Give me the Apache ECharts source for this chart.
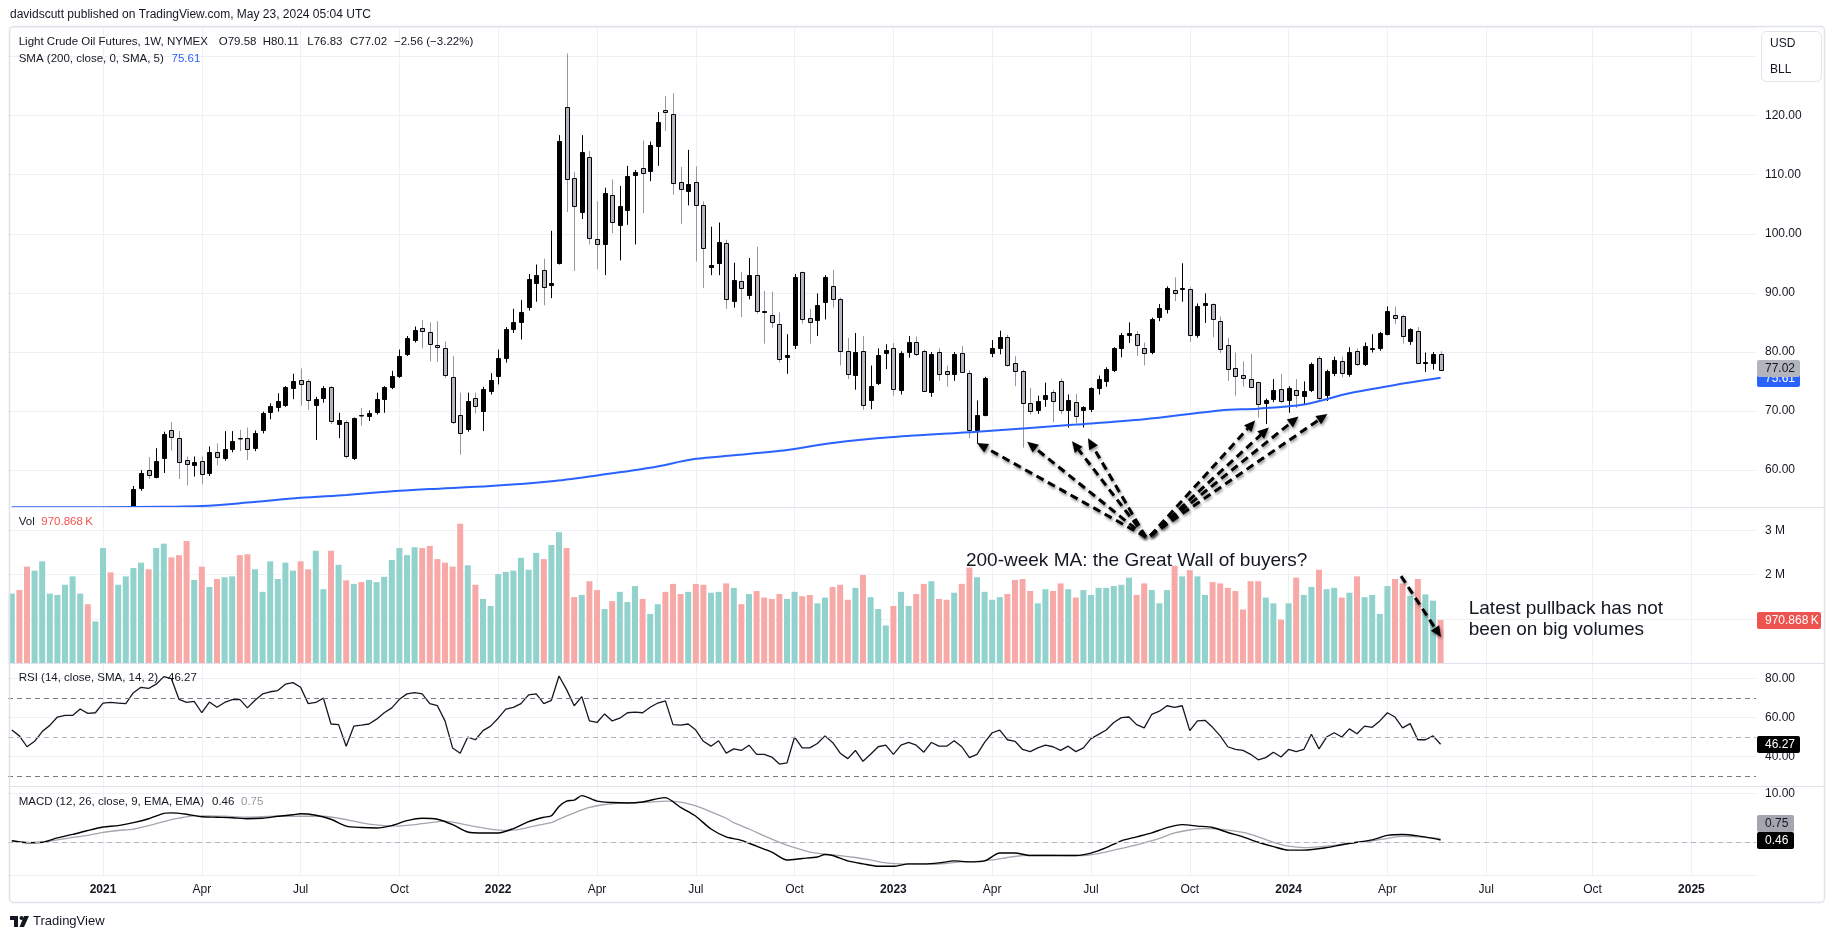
<!DOCTYPE html>
<html>
<head>
<meta charset="utf-8">
<script src="https://cdn.jsdelivr.net/npm/echarts@6.0.0/dist/echarts.min.js"></script>
<style>html,body{margin:0;padding:0;background:#fff}#c{width:1835px;height:939px}</style>
</head>
<body>
<div id="c"></div>
<script>
// ---------- categories (weekly bars, Monday dates) ----------
const weekStart = Date.UTC(2020, 9, 12);
const weekCount = 230;
const weeks = [];
for (let k = 0; k < weekCount; k++) weeks.push(new Date(weekStart + k * 604800000).toISOString().slice(0, 10));
const monthNames = ['Jan','Feb','Mar','Apr','May','Jun','Jul','Aug','Sep','Oct','Nov','Dec'];

// ---------- price data ----------
const open = [
40.6,40.9,39.7,35.8,37.0,40.1,42.4,45.5,46.3,46.7,
49.1,48.2,48.4,52.5,52.2,52.1,52.2,57.0,60.0,58.9,
62.0,66.7,65.5,61.7,60.9,61.5,59.5,63.1,62.0,63.5,
65.5,65.4,63.8,66.7,69.8,70.6,71.0,73.9,75.3,75.0,
71.1,72.2,74.0,67.8,68.1,62.1,69.4,69.2,69.9,72.0,
74.0,75.9,79.7,82.0,84.0,83.4,81.2,80.6,75.7,69.3,
67.0,72.2,70.0,73.4,75.9,78.9,83.9,85.0,87.6,91.7,
93.9,91.3,95.0,121.5,109.4,103.7,113.0,99.1,98.3,106.5,
101.4,104.0,110.0,111.1,110.6,114.9,121.0,120.2,108.7,107.2,
108.8,104.9,94.3,95.1,98.5,88.7,92.0,89.6,93.0,87.0,
86.2,84.8,79.2,81.1,93.5,85.7,85.4,88.4,91.1,89.0,
80.2,76.1,80.1,71.8,74.7,79.9,80.6,73.5,80.0,81.6,
80.1,73.2,80.0,76.7,76.3,79.9,76.5,66.8,69.3,79.9,
80.7,82.6,78.2,76.7,71.3,70.1,72.0,73.3,75.0,70.2,
71.6,70.1,70.4,73.9,75.0,76.9,80.6,82.8,83.0,80.7,
80.0,85.9,87.3,90.4,90.6,90.7,82.9,88.0,88.1,85.2,
81.2,77.3,76.1,75.5,74.9,71.3,72.0,73.7,71.8,73.5,
72.6,73.6,78.9,72.7,76.5,78.4,76.3,80.1,78.0,80.5,
80.7,83.0,86.2,86.0,81.8,83.6,78.2,78.2,79.58];
const high = [
41.6,41.9,40.0,39.3,43.0,42.5,46.0,46.7,47.7,49.3,
49.4,48.9,52.8,53.9,53.6,53.3,57.3,60.0,62.2,63.7,
66.5,68.1,66.6,62.3,62.3,62.3,64.0,64.5,66.6,66.6,
66.8,67.2,66.7,69.9,71.3,73.0,74.2,76.3,77.2,75.4,
72.4,74.2,74.2,69.7,68.4,68.9,70.5,70.1,73.1,74.2,
76.8,80.4,82.7,84.3,85.4,85.0,85.2,81.8,79.3,73.1,
73.1,73.1,74.1,76.4,80.4,84.2,87.3,88.8,93.2,94.8,
95.8,100.5,116.7,130.5,110.5,116.7,114.0,105.5,107.8,109.2,
108.1,111.5,110.8,115.8,115.6,120.6,123.3,123.8,111.3,114.2,
111.4,105.5,101.2,101.9,99.0,95.1,93.5,95.9,97.8,90.3,
90.2,86.7,83.0,93.2,93.6,87.3,89.9,93.0,93.9,89.2,
82.4,83.2,82.7,77.7,80.6,81.3,81.5,80.1,82.7,82.6,
80.4,80.0,80.6,77.7,80.0,81.0,76.9,71.8,75.8,82.0,
83.6,82.9,79.3,77.0,73.9,72.6,74.8,73.6,75.5,72.8,
72.9,70.8,74.0,76.0,77.4,80.8,83.2,85.0,83.5,81.6,
85.8,88.1,91.1,92.6,95.0,91.0,88.2,89.9,88.2,86.0,
82.4,79.9,78.4,79.7,75.0,72.1,75.4,76.3,74.2,75.4,
75.0,78.2,79.3,77.0,79.2,79.2,80.8,80.6,81.6,83.0,
83.4,87.7,87.7,86.3,84.0,84.2,79.9,80.0,80.11];
const low = [
39.6,39.4,34.9,33.6,36.9,39.8,42.2,43.9,45.2,46.2,
46.2,47.2,47.2,51.8,51.6,51.4,51.6,56.5,58.5,58.6,
59.5,63.3,58.5,57.4,58.9,57.6,59.0,60.8,61.6,63.0,
63.2,61.7,63.2,66.2,68.6,69.9,70.7,72.0,70.9,70.2,
65.1,71.4,67.8,65.4,62.0,61.7,67.5,68.3,69.4,69.7,
73.7,75.6,79.3,81.6,80.6,78.4,78.3,75.6,67.8,62.6,
66.5,69.6,66.6,72.8,74.5,78.2,83.2,82.1,87.0,88.5,
87.9,89.1,94.8,103.7,93.7,102.5,98.2,94.0,93.0,100.1,
95.5,101.5,98.2,103.5,108.9,111.5,117.4,106.6,101.7,104.8,
95.3,90.8,93.0,93.0,87.3,87.5,85.9,88.9,86.5,81.4,
84.1,78.2,76.3,80.5,84.8,81.4,82.7,85.5,87.5,77.7,
75.4,73.6,70.2,70.3,74.4,77.1,72.6,72.8,79.0,79.3,
73.2,72.4,75.1,74.1,75.1,76.5,65.4,64.5,69.1,79.1,
79.6,77.5,74.2,63.8,69.4,69.5,70.7,68.1,69.5,67.2,
67.9,67.2,69.8,72.8,74.1,76.6,79.1,81.5,79.3,77.7,
79.6,85.2,86.5,88.6,88.5,81.7,82.4,84.9,82.5,79.8,
75.1,72.6,74.1,73.8,68.9,67.8,71.5,71.3,69.7,70.5,
71.0,73.2,71.9,71.7,75.9,75.7,75.8,77.6,77.6,79.9,
80.2,82.8,84.7,81.4,81.2,78.0,76.6,77.0,76.83];
const close = [
40.88,39.85,35.79,37.14,40.13,42.15,45.53,46.26,46.57,49.10,
48.23,48.52,52.24,52.36,52.27,52.20,56.85,59.47,59.24,61.50,
66.09,65.61,61.42,60.97,61.45,59.32,63.13,62.14,63.58,64.90,
65.37,63.58,66.32,69.62,70.91,71.64,74.05,75.16,74.56,71.81,
72.07,73.95,68.28,68.44,62.32,68.74,69.29,69.72,71.97,73.98,
75.88,79.35,82.28,83.76,83.57,81.27,80.79,76.10,68.15,66.26,
71.67,70.86,73.79,75.21,78.90,83.82,85.14,86.82,92.31,93.10,
91.07,91.59,115.68,109.33,104.70,113.90,99.27,98.26,106.95,102.07,
104.69,109.77,110.49,110.28,115.07,118.87,120.67,108.60,107.62,108.43,
104.79,97.59,94.70,98.62,89.01,92.09,90.77,93.06,86.87,86.79,
85.11,78.74,79.49,92.64,85.61,85.05,87.90,92.61,88.96,80.08,
76.28,79.98,71.02,74.29,79.56,80.26,73.77,79.86,81.64,79.68,
73.39,79.72,76.34,76.32,79.68,76.68,66.74,69.26,75.67,80.70,
82.52,77.87,76.78,71.34,70.04,71.69,72.67,71.74,70.17,71.78,
69.16,70.64,73.86,75.42,77.07,80.58,82.82,83.19,81.25,79.83,
85.55,87.51,90.77,90.03,90.79,82.79,87.69,88.30,85.54,80.51,
77.17,75.89,75.54,74.07,71.23,71.90,73.56,71.65,73.81,72.68,
73.41,78.01,72.28,76.84,78.60,76.49,79.97,78.01,81.04,80.63,
83.17,86.91,85.66,82.70,83.85,78.11,78.26,79.58,77.02];

// volume in millions of contracts
const volumeM = [
1.57,1.65,2.18,2.09,2.30,1.57,1.54,1.77,1.96,1.57,
1.33,0.94,2.60,2.05,1.77,1.96,2.15,2.27,2.12,2.60,
2.70,2.39,2.44,2.76,1.88,2.18,1.72,1.90,1.94,1.96,
2.44,2.46,2.12,1.61,2.30,1.90,2.27,2.09,2.30,2.12,
2.54,1.67,2.54,2.22,1.87,1.79,1.83,1.88,1.83,1.95,
2.33,2.60,2.44,2.62,2.60,2.65,2.35,2.27,2.18,3.15,
2.21,1.77,1.45,1.29,2.01,2.06,2.09,2.38,2.11,2.49,
2.35,2.67,2.96,2.60,1.49,1.54,1.85,1.65,1.22,1.40,
1.61,1.38,1.74,1.45,1.11,1.33,1.61,1.79,1.56,1.61,
1.79,1.77,1.59,1.61,1.80,1.70,1.33,1.56,1.63,1.48,
1.45,1.56,1.45,1.61,1.51,1.54,1.35,1.48,1.72,1.77,
1.43,1.70,1.99,1.49,1.22,0.85,1.29,1.61,1.29,1.56,
1.79,1.85,1.45,1.43,1.59,1.79,2.16,1.94,1.61,1.43,
1.49,1.56,1.88,1.90,1.63,1.35,1.67,1.63,1.80,1.67,
1.48,1.65,1.54,1.70,1.70,1.74,1.77,1.93,1.54,1.80,
1.65,1.35,1.65,2.20,1.96,2.10,1.96,1.54,1.83,1.80,
1.70,1.63,1.21,1.85,1.85,1.48,1.35,0.98,1.35,1.93,
1.54,1.72,2.11,1.67,1.70,1.48,1.59,1.96,1.49,1.54,
1.11,1.74,1.90,1.80,1.52,1.90,1.55,1.41,0.970868];

const rsi = [
53.6,50.6,45.0,47.8,52.8,56.0,60.3,61.1,61.1,64.4,
62.2,62.5,67.5,67.8,67.5,67.2,72.8,75.6,75.0,77.2,
81.1,80.0,69.4,67.8,68.3,62.5,68.0,65.3,67.8,69.2,
69.4,65.0,68.9,72.2,73.3,73.9,77.2,78.0,75.6,67.2,
67.8,70.0,56.7,56.4,45.3,55.6,56.1,56.7,59.2,62.5,
65.0,69.4,72.2,72.8,72.2,67.2,66.1,58.3,44.4,41.7,
50.0,48.6,53.3,55.6,59.7,64.4,65.3,67.2,71.7,72.2,
67.2,68.9,81.4,74.4,66.1,70.8,58.3,57.5,61.9,58.3,
59.7,62.5,62.8,62.5,65.3,67.5,68.6,56.4,56.1,56.7,
53.6,47.8,45.3,48.1,41.7,43.9,43.1,45.8,41.1,41.1,
39.7,36.1,36.7,50.0,44.4,44.4,46.7,50.6,47.2,41.7,
38.9,43.1,37.5,41.1,45.0,45.8,41.1,45.8,47.2,45.8,
42.2,47.2,45.3,45.3,48.1,45.0,39.4,41.1,47.2,52.2,
53.6,48.6,47.8,43.6,42.5,44.4,45.8,45.0,43.1,45.3,
42.5,44.4,49.2,51.4,53.6,57.5,60.0,60.3,56.4,54.7,
61.7,63.3,66.1,65.3,66.1,53.3,58.3,58.6,55.0,50.6,
45.0,43.6,43.1,41.1,38.3,39.4,42.2,39.7,43.6,42.5,
43.6,51.4,43.9,50.0,52.2,50.0,54.2,51.7,55.6,55.0,
58.3,62.5,60.3,54.7,56.9,48.6,48.6,50.6,46.27];

// MACD / signal / SMA200 read at sampled weeks: [week index, value]
const macdPts = [[0,0.3],[2,-0.1],[4,0.0],[6,0.9],[8,1.6],[10,2.4],[12,3.1],[14,3.4],[16,4.0],[18,4.8],[20,5.9],[21,6.0],[23,5.7],[25,5.2],[27,5.1],[29,5.0],[31,4.8],[33,4.9],[35,5.3],[37,5.6],[38,5.8],[40,5.5],[42,4.7],[44,3.3],[46,3.0],[48,2.9],[50,3.4],[52,4.4],[54,4.9],[56,4.7],[58,3.6],[60,2.1],[62,1.9],[64,1.9],[66,2.8],[68,4.2],[70,5.1],[71,5.4],[72,7.3],[73,8.4],[74,8.6],[75,9.5],[77,8.4],[79,8.1],[81,8.0],[83,8.2],[85,8.9],[86,9.1],[88,7.1],[90,5.3],[92,2.7],[94,1.1],[96,0.4],[98,-0.8],[100,-2.0],[102,-3.6],[104,-3.3],[106,-3.0],[107,-2.5],[108,-2.7],[110,-3.8],[112,-4.4],[114,-4.9],[116,-4.9],[118,-4.4],[120,-4.4],[122,-4.2],[124,-3.8],[126,-4.0],[128,-3.8],[130,-2.2],[132,-2.2],[134,-2.7],[136,-2.7],[138,-2.7],[140,-2.7],[142,-2.2],[144,-1.1],[146,0.3],[148,1.1],[150,1.9],[152,3.0],[154,3.6],[156,3.3],[158,3.0],[160,2.0],[162,1.1],[164,0.0],[166,-0.9],[168,-1.6],[170,-1.6],[173,-1.1],[175,-0.5],[177,0.0],[179,0.5],[181,1.4],[183,1.6],[185,1.3],[187,0.8],[188,0.46]];
const signalPts = [[0,0.3],[2,0.0],[4,0.0],[6,0.5],[8,1.0],[10,1.4],[12,2.0],[14,2.4],[16,2.7],[18,3.4],[20,4.2],[22,4.9],[24,5.4],[26,5.4],[28,5.3],[31,5.1],[35,5.3],[38,5.3],[41,5.3],[43,4.9],[45,4.3],[47,3.7],[49,3.4],[51,3.3],[53,3.6],[55,4.0],[57,4.3],[59,3.8],[61,3.2],[63,2.7],[65,2.4],[67,2.7],[69,3.4],[71,4.0],[72,4.7],[74,6.0],[76,7.1],[78,7.7],[80,8.0],[82,8.1],[84,8.2],[86,8.4],[88,8.2],[90,7.4],[92,6.2],[94,4.9],[95,4.0],[97,2.7],[99,1.3],[101,0.0],[103,-1.1],[105,-2.0],[107,-2.4],[109,-2.7],[111,-3.1],[113,-3.6],[115,-4.2],[117,-4.4],[119,-4.5],[121,-4.5],[123,-4.3],[125,-4.0],[127,-3.9],[129,-3.6],[131,-3.1],[133,-2.7],[135,-2.6],[137,-2.6],[139,-2.7],[141,-2.7],[143,-2.3],[145,-1.6],[147,-0.9],[149,-0.1],[151,0.8],[153,1.9],[155,2.5],[157,2.8],[159,2.7],[162,2.0],[164,1.1],[166,0.0],[168,-0.8],[170,-1.1],[173,-0.8],[176,-0.2],[179,0.3],[181,0.8],[183,1.2],[185,1.1],[187,0.9],[188,0.75]];
const smaPts = [[0,53.7],[12,53.7],[20,53.8],[25,53.9],[31,54.5],[38,55.3],[44,55.8],[51,56.5],[55,56.8],[63,57.3],[71,58.1],[77,59.1],[84,60.4],[90,61.9],[95,62.5],[102,63.4],[108,64.6],[116,65.6],[127,66.5],[140,67.7],[149,68.6],[159,70.1],[164,70.4],[170,71.1],[176,73.0],[182,74.4],[188,75.61]];

// annotation anchors: [week index, price] (price pane) and [week index, volume M] (volume pane)
const wallOriginLeft = [149.2, 48.7];
const wallOriginRight = [149.8, 48.9];
const wallTipsLeft = [[127.0, 64.6], [133.6, 64.8], [139.5, 64.9], [141.6, 65.4]];
const wallTipsRight = [[163.6, 68.4], [165.4, 67.2], [169.3, 69.05], [173.1, 69.5]];
const volArrow = [[182.8, 1.966], [188.05, 0.586]];
const wallText = {at: [125.55, 2.305], text: '200-week MA: the Great Wall of buyers?'};
const volText = [{at: [191.7, 1.235], text: 'Latest pullback has not'}, {at: [191.7, 0.744], text: 'been on big volumes'}];

// ---------- style ----------
const FONT = '"Liberation Sans", Arial, sans-serif';
const TEXT = '#131722';
const GRIDLINE = '#eef0f5';
const UP_VOL = '#92d2cc', DOWN_VOL = '#f7a9a7';
const panes = [{top: 27, height: 480}, {top: 507, height: 156}, {top: 663, height: 123}, {top: 786, height: 89}];

function monthOf(s) { return +s.slice(5, 7) - 1; }
function isQuarterStart(idx) {
  if (idx <= 0 || idx >= weeks.length) return false;
  const m = monthOf(weeks[idx]);
  return m !== monthOf(weeks[idx - 1]) && m % 3 === 0;
}
function quarterLabel(v) {
  const m = monthOf(v);
  return m === 0 ? '{y|' + v.slice(0, 4) + '}' : '{m|' + monthNames[m] + '}';
}

const candleData = open.map((o, i) => [i, o, close[i], low[i], high[i]]);
const volData = volumeM.map((v, i) => ({value: v, itemStyle: {color: close[i] >= open[i] ? UP_VOL : DOWN_VOL}}));

function yAxisBase(k, extra) {
  return Object.assign({
    type: 'value', gridIndex: k, position: 'right', scale: true,
    axisLine: {show: false}, axisTick: {show: false},
    splitLine: {show: true, lineStyle: {color: GRIDLINE, width: 1}},
    axisLabel: {color: TEXT, fontSize: 12, fontFamily: FONT, margin: 9, hideOverlap: false}
  }, extra);
}
function near(v, t) { return Math.abs(v - t) < 1e-6; }

const option = {
  backgroundColor: '#ffffff',
  animation: false,
  textStyle: {fontFamily: FONT},
  grid: panes.map(p => ({left: 8, right: 79, top: p.top, height: p.height})),
  xAxis: panes.map((p, k) => ({
    type: 'category', gridIndex: k, data: weeks, boundaryGap: true,
    axisLine: {show: false}, axisTick: {show: false},
    axisLabel: k === 3 ? {
      show: true, interval: (idx) => isQuarterStart(idx), formatter: quarterLabel, margin: 9,
      hideOverlap: false,
      rich: {y: {fontWeight: 'bold', fontSize: 12, color: TEXT, fontFamily: FONT}, m: {fontSize: 12, color: TEXT, fontFamily: FONT}}
    } : {show: false},
    splitLine: {show: true, interval: (idx) => isQuarterStart(idx), alignWithLabel: true, lineStyle: {color: GRIDLINE, width: 1}}
  })),
  yAxis: [
    yAxisBase(0, {min: 53.75, max: 135, splitNumber: 8}),
    yAxisBase(1, {min: 0, max: 3.529, splitNumber: 3}),
    yAxisBase(2, {min: 24.8, max: 88.1, splitNumber: 3}),
    yAxisBase(3, {min: -6.67, max: 11.47, splitNumber: 2})
  ],
  series: [
    {
      type: 'custom', name: 'price', xAxisIndex: 0, yAxisIndex: 0, clip: true, z: 2,
      data: candleData, encode: {x: 0, y: [1, 2, 3, 4]},
      renderItem: function (params, api) {
        const x = api.value(0), o = api.value(1), c = api.value(2), l = api.value(3), h = api.value(4);
        const pO = api.coord([x, o]), pC = api.coord([x, c]), pL = api.coord([x, l]), pH = api.coord([x, h]);
        const up = c >= o;
        const cx = Math.round(pO[0]) + 0.5;
        const top = Math.round(Math.min(pO[1], pC[1])) + 0.5;
        const bot = Math.round(Math.max(pO[1], pC[1])) + 0.5;
        return {
          type: 'group',
          children: [
            {type: 'line', shape: {x1: cx, y1: pH[1], x2: cx, y2: pL[1]}, style: {stroke: up ? '#000000' : '#9598a1', lineWidth: 1}},
            {type: 'rect', shape: {x: cx - 2, y: top, width: 4, height: Math.max(bot - top, 0.5)},
             style: {fill: up ? '#000000' : '#b2b5be', stroke: '#000000', lineWidth: 1}}
          ]
        };
      }
    },
    {
      type: 'line', name: 'SMA', xAxisIndex: 0, yAxisIndex: 0, data: smaPts, smooth: 0.3,
      symbol: 'none', z: 3, lineStyle: {color: '#2962ff', width: 2}
    },
    {
      type: 'bar', name: 'Vol', xAxisIndex: 1, yAxisIndex: 1, data: volData, barWidth: 6
    },
    {
      type: 'line', name: 'RSI', xAxisIndex: 2, yAxisIndex: 2, data: rsi, symbol: 'none',
      lineStyle: {color: '#131722', width: 1.3},
      markLine: {
        silent: true, symbol: ['none', 'none'], label: {show: false}, animation: false,
        data: [
          {yAxis: 70, lineStyle: {color: '#787b86', type: [5, 4], width: 1}},
          {yAxis: 50, lineStyle: {color: '#b2b5be', type: [5, 4], width: 1}},
          {yAxis: 30, lineStyle: {color: '#787b86', type: [5, 4], width: 1}}
        ]
      }
    },
    {
      type: 'line', name: 'Signal', xAxisIndex: 3, yAxisIndex: 3, data: signalPts, smooth: 0.25,
      symbol: 'none', lineStyle: {color: '#a3a6af', width: 1.3},
      markLine: {
        silent: true, symbol: ['none', 'none'], label: {show: false}, animation: false,
        data: [{yAxis: 0, lineStyle: {color: '#b2b5be', type: [5, 4], width: 1}}]
      }
    },
    {
      type: 'line', name: 'MACD', xAxisIndex: 3, yAxisIndex: 3, data: macdPts, smooth: 0.25,
      symbol: 'none', lineStyle: {color: '#000000', width: 1.4}
    }
  ]
};
option.yAxis[0].axisLabel.formatter = v => (v >= 59.9 && v <= 120.1 && near(v / 10, Math.round(v / 10))) ? v.toFixed(2) : '';
option.yAxis[1].axisLabel.formatter = v => (near(v, 2) || near(v, 3)) ? Math.round(v) + ' M' : '';
option.yAxis[2].axisLabel.formatter = v => (near(v, 40) || near(v, 60) || near(v, 80)) ? v.toFixed(2) : '';
option.yAxis[3].axisLabel.formatter = v => near(v, 10) ? '10.00' : '';

const chart = echarts.init(document.getElementById('c'), null, {renderer: 'canvas', width: 1835, height: 939});
chart.setOption(option);

// ---------- overlay graphics ----------
function toPx(grid, i, v) {
  const i0 = Math.floor(i), f = i - i0;
  const a = chart.convertToPixel({gridIndex: grid}, [i0, v]);
  const b = chart.convertToPixel({gridIndex: grid}, [i0 + 1, v]);
  return [a[0] + (b[0] - a[0]) * f, a[1]];
}
function txt(x, y, s, o) {
  o = o || {};
  return {type: 'text', z: o.z || 120, silent: true, x: x, y: y, style: {
    text: s, fill: o.fill || TEXT, fontSize: o.size || 11.5, fontFamily: FONT, fontWeight: o.weight || 'normal',
    align: o.align || 'left', verticalAlign: 'middle'}};
}
let boxZ = 130;
function valueBox(y, w, s, bg, fg) {
  boxZ += 2;
  return [
    {type: 'rect', z: boxZ, silent: true, shape: {x: 1757, y: Math.round(y) - 8, width: w, height: 17, r: 2}, style: {fill: bg}},
    txt(1765, Math.round(y) + 0.5, s, {fill: fg, size: 12, z: boxZ + 1})
  ];
}
const shadow = {shadowBlur: 3, shadowColor: 'rgba(0,0,0,0.45)', shadowOffsetX: 1, shadowOffsetY: 2};
function arrow(p0, p1) {
  const dx = p1[0] - p0[0], dy = p1[1] - p0[1], len = Math.hypot(dx, dy), ux = dx / len, uy = dy / len;
  const hl = 11, hw = 5;
  const bx = p1[0] - ux * hl, by = p1[1] - uy * hl;
  return [
    {type: 'line', z: 140, silent: true, shape: {x1: p0[0], y1: p0[1], x2: bx, y2: by},
     style: Object.assign({stroke: '#000', lineWidth: 3, lineDash: [8, 5]}, shadow)},
    {type: 'polygon', z: 141, silent: true, shape: {points: [[p1[0], p1[1]], [bx - uy * hw, by + ux * hw], [bx + uy * hw, by - ux * hw]]},
     style: Object.assign({fill: '#000'}, shadow)}
  ];
}

const G = [];
// frame + pane separators
G.push({type: 'rect', z: 100, silent: true, shape: {x: 9.5, y: 26.5, width: 1815, height: 876, r: 4}, style: {fill: 'none', stroke: '#e0e3eb', lineWidth: 1.5}});
[507, 663, 786].forEach(y => G.push({type: 'line', z: 100, silent: true, shape: {x1: 10, y1: y + 0.5, x2: 1824, y2: y + 0.5}, style: {stroke: '#e0e3eb', lineWidth: 1}}));
// currency box
G.push({type: 'rect', z: 110, silent: true, shape: {x: 1761.5, y: 31.5, width: 60, height: 50, r: 5}, style: {fill: '#fff', stroke: '#e0e3eb', lineWidth: 1}});
G.push(txt(1770, 43.5, 'USD', {size: 12}));
G.push(txt(1770, 70, 'BLL', {size: 12}));
// header & legends
G.push(txt(10, 15, 'davidscutt published on TradingView.com, May 23, 2024 05:04 UTC', {size: 12}));
G.push(txt(18.7, 42, 'Light Crude Oil Futures, 1W, NYMEX'));
G.push(txt(218.7, 42, 'O79.58'));
G.push(txt(262.7, 42, 'H80.11'));
G.push(txt(307.3, 42, 'L76.83'));
G.push(txt(350, 42, 'C77.02'));
G.push(txt(394, 42, '\u22122.56 (\u22123.22%)'));
G.push(txt(18.7, 59, 'SMA (200, close, 0, SMA, 5)'));
G.push(txt(171.5, 59, '75.61', {fill: '#2962ff'}));
G.push(txt(18.7, 521.7, 'Vol'));
G.push(txt(41.3, 521.7, '970.868\u2009K', {fill: '#ef5350'}));
G.push(txt(18.7, 678, 'RSI (14, close, SMA, 14, 2)'));
G.push(txt(168, 678, '46.27'));
G.push(txt(18.7, 802, 'MACD (12, 26, close, 9, EMA, EMA)'));
G.push(txt(212, 802, '0.46'));
G.push(txt(241, 802, '0.75', {fill: '#9598a1'}));
// footer logo
G.push({type: 'rect', z: 120, silent: true, shape: {x: 10, y: 916, width: 8, height: 4}, style: {fill: TEXT}});
G.push({type: 'rect', z: 120, silent: true, shape: {x: 14, y: 916, width: 4, height: 11}, style: {fill: TEXT}});
G.push({type: 'circle', z: 120, silent: true, shape: {cx: 21.5, cy: 918, r: 2}, style: {fill: TEXT}});
G.push({type: 'polygon', z: 120, silent: true, shape: {points: [[24, 916], [29, 916], [24, 927], [19.5, 927]]}, style: {fill: TEXT}});
G.push(txt(33, 921, 'TradingView', {size: 13}));

// last-value boxes on the scales
const yClose = chart.convertToPixel({gridIndex: 0}, [0, close[close.length - 1]])[1];
const ySma = chart.convertToPixel({gridIndex: 0}, [0, smaPts[smaPts.length - 1][1]])[1];
const yVol = chart.convertToPixel({gridIndex: 1}, [0, volumeM[volumeM.length - 1]])[1];
const yRsi = chart.convertToPixel({gridIndex: 2}, [0, rsi[rsi.length - 1]])[1];
const yMacd = chart.convertToPixel({gridIndex: 3}, [0, macdPts[macdPts.length - 1][1]])[1];
G.push(...valueBox(ySma, 43, '75.61', '#2962ff', '#ffffff'));
G.push(...valueBox(yClose - 2, 43, '77.02', '#b2b5be', TEXT));
G.push(...valueBox(yVol, 64, '970.868\u2009K', '#ef5350', '#ffffff'));
G.push(...valueBox(yRsi, 43, '46.27', '#000000', '#ffffff'));
G.push(...valueBox(yMacd - 17, 37, '0.75', '#a3a6af', TEXT));
G.push(...valueBox(yMacd, 37, '0.46', '#000000', '#ffffff'));

// annotations
const oL = toPx(0, wallOriginLeft[0], wallOriginLeft[1]);
const oR = toPx(0, wallOriginRight[0], wallOriginRight[1]);
wallTipsLeft.forEach(t => G.push(...arrow(oL, toPx(0, t[0], t[1]))));
wallTipsRight.forEach(t => G.push(...arrow(oR, toPx(0, t[0], t[1]))));
G.push(...arrow(toPx(1, volArrow[0][0], volArrow[0][1]), toPx(1, volArrow[1][0], volArrow[1][1])));
const wt = toPx(1, wallText.at[0], wallText.at[1]);
G.push(txt(wt[0], wt[1], wallText.text, {size: 19}));
volText.forEach(t => { const p = toPx(1, t.at[0], t.at[1]); G.push(txt(p[0], p[1], t.text, {size: 19})); });

chart.setOption({graphic: G});
</script>
</body>
</html>
